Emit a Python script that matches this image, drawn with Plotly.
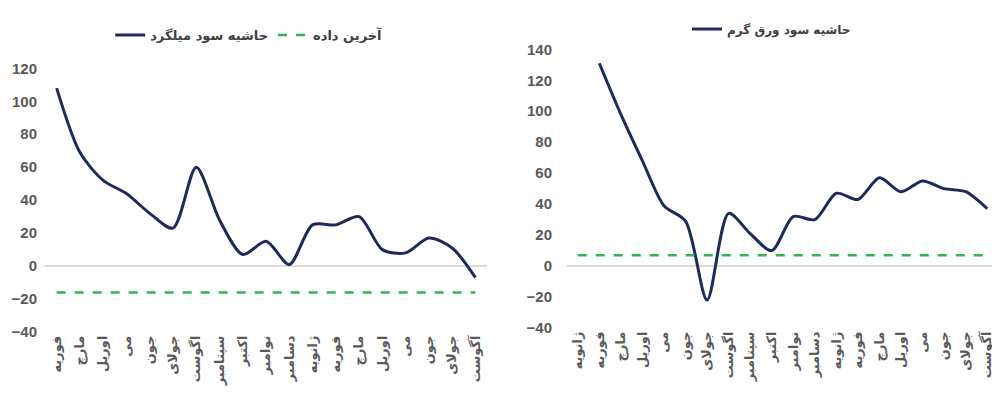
import plotly.graph_objects as go

# ---- data ----
months_left = ["فوریه", "مارچ", "اوریل", "می", "جون", "جولای", "اگوست", "سپتامبر",
               "اکتبر", "نوامبر", "دسامبر", "ژانویه", "فوریه", "مارچ", "اوریل",
               "می", "جون", "جولای", "آگوست"]
rebar_margin = [108, 69, 52, 44, 32, 23, 60, 28, 7, 15, 1, 25, 25, 30, 10, 8, 17, 11, -7]
rebar_last = -16

months_right = ["ژانویه", "فوریه", "مارچ", "اوریل", "می", "جون", "جولای", "اگوست",
                "سپتامبر", "اکتبر", "نوامبر", "دسامبر", "ژانویه", "فوریه", "مارچ",
                "اوریل", "می", "جون", "جولای", "آگوست"]
hotsheet_margin = [None, 131, 98, 68, 39, 29, -22, 34, 21, 10, 32, 30, 47, 43, 57,
                   48, 55, 50, 48, 37]
hotsheet_last = 7

left_yticks = [-40, -20, 0, 20, 40, 60, 80, 100, 120]
right_yticks = [-40, -20, 0, 20, 40, 60, 80, 100, 120, 140]

NAVY = "#1c2b5b"
GREEN = "#2fb64e"
TICK_GREY = "#595959"
FONT = "DejaVu Sans, Noto Sans, sans-serif"

xl = list(range(len(months_left)))
xr = list(range(len(months_right)))

fig = go.Figure()
fig.add_trace(go.Scatter(x=xl, y=rebar_margin, mode="lines", name="حاشیه سود میلگرد",
                         line=dict(color=NAVY, width=3, shape="spline", smoothing=0.8),
                         xaxis="x", yaxis="y", legend="legend"))
fig.add_trace(go.Scatter(x=xl, y=[rebar_last] * len(xl), mode="lines", name="آخرین داده",
                         line=dict(color=GREEN, width=2.5, dash="dash"),
                         xaxis="x", yaxis="y", legend="legend"))
fig.add_trace(go.Scatter(x=xr, y=hotsheet_margin, mode="lines", name="حاشیه سود ورق گرم",
                         line=dict(color=NAVY, width=3, shape="spline", smoothing=0.8),
                         xaxis="x2", yaxis="y2", legend="legend2"))
fig.add_trace(go.Scatter(x=xr, y=[hotsheet_last] * len(xr), mode="lines", name="آخرین داده",
                         line=dict(color=GREEN, width=2.5, dash="dash"),
                         xaxis="x2", yaxis="y2", showlegend=False))

xcommon = dict(showgrid=False, zeroline=False, showline=False, ticks="",
               tickangle=-90, automargin=False,
               tickfont=dict(family=FONT, size=13, color=TICK_GREY, weight="bold"),
               fixedrange=True)
ycommon = dict(showgrid=False, zeroline=True, zerolinecolor="#d9d9d9", zerolinewidth=1.5,
               showline=False, ticks="", automargin=False,
               tickfont=dict(family="Liberation Sans", size=15, color=TICK_GREY, weight="bold"))

# page body has an 8px default margin: figure is 992x390 placed at (8, 8)
fig.update_layout(
    width=992, height=390,
    margin=dict(l=0, r=0, t=0, b=0, autoexpand=False),
    paper_bgcolor="white", plot_bgcolor="white",
    font=dict(family=FONT),
    xaxis=dict(domain=[0.0373, 0.4829], anchor="y", range=[-0.5, len(xl) - 0.5],
               tickvals=xl, ticktext=months_left, **xcommon),
    yaxis=dict(domain=[0.1692, 0.8454], anchor="x", range=[-40, 120],
               tickvals=left_yticks, ticklabelstandoff=7, **ycommon),
    xaxis2=dict(domain=[0.5635, 0.998], anchor="y2", range=[-0.5, len(xr) - 0.5],
                tickvals=xr, ticktext=months_right, **xcommon),
    yaxis2=dict(domain=[0.1795, 0.8941], anchor="x2", range=[-40, 140],
                tickvals=right_yticks, ticklabelstandoff=14, **ycommon),
    legend=dict(orientation="h", x=0.103, y=0.9308, xanchor="left", yanchor="middle",
                font=dict(family=FONT, size=13, color="#404040", weight="bold"),
                bgcolor="rgba(0,0,0,0)"),
    legend2=dict(orientation="h", x=0.6845, y=0.946, xanchor="left", yanchor="middle",
                 font=dict(family=FONT, size=12, color="#404040", weight="bold"),
                 bgcolor="rgba(0,0,0,0)"),
)

fig.write_html("out.html")
